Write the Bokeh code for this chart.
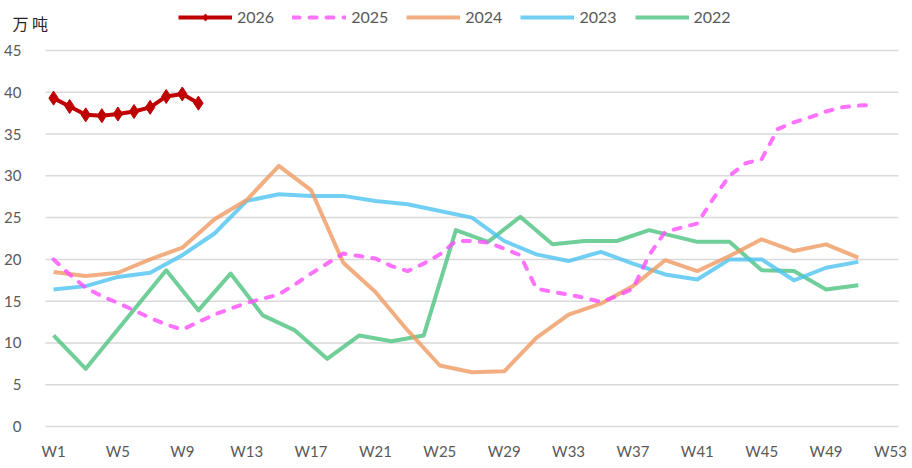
from bokeh.plotting import figure
from bokeh.models import Range1d, FixedTicker, Legend, LegendItem, Label
from bokeh.embed import file_html
from bokeh.resources import INLINE

# ---- data (万吨, by week) ----
weeks_2026 = [1, 2, 3, 4, 5, 6, 7, 8, 9, 10]
vals_2026 = [39.3, 38.3, 37.3, 37.2, 37.4, 37.7, 38.2, 39.5, 39.8, 38.7]

weeks_2025 = [1, 2, 3, 4, 5, 6, 7, 8, 9, 10, 11, 12, 13, 14, 15, 16, 17, 18, 19, 20,
              21, 22, 23, 24, 25, 26, 27, 28, 29, 30, 31, 32, 33, 34, 35, 36, 37, 38,
              39, 40, 41, 42, 43, 44, 45, 46, 47, 48, 49, 50, 51, 52]
vals_2025 = [20.0, 18.2, 16.6, 15.6, 14.8, 13.9, 13.0, 12.2, 11.6, 12.5, 13.4, 14.1,
             14.8, 15.3, 15.8, 17.0, 18.3, 19.5, 20.7, 20.4, 20.1, 19.2, 18.6, 19.5,
             20.6, 22.2, 22.2, 22.0, 21.3, 20.5, 16.5, 16.1, 15.8, 15.4, 14.9, 15.6,
             16.5, 20.5, 23.3, 23.8, 24.3, 27.3, 30.0, 31.5, 32.0, 35.6, 36.4, 37.0,
             37.7, 38.2, 38.4, 38.5]

weeks_2024 = [1, 3, 5, 7, 9, 11, 13, 15, 17, 19, 21, 23, 25, 27, 29, 31, 33, 35, 37,
              39, 41, 43, 45, 47, 49, 51]
vals_2024 = [18.5, 18.0, 18.4, 20.0, 21.4, 24.8, 27.1, 31.2, 28.3, 19.6, 16.1, 11.5,
             7.3, 6.5, 6.6, 10.6, 13.4, 14.7, 16.8, 19.9, 18.6, 20.4, 22.4, 21.0,
             21.8, 20.2]

weeks_2023 = [1, 3, 5, 7, 9, 11, 13, 15, 17, 19, 21, 23, 25, 27, 29, 31, 33, 35, 37,
              39, 41, 43, 45, 47, 49, 51]
vals_2023 = [16.4, 16.8, 17.9, 18.4, 20.5, 23.1, 27.0, 27.8, 27.6, 27.6, 27.0, 26.6,
             25.8, 25.0, 22.2, 20.6, 19.8, 20.9, 19.5, 18.2, 17.6, 20.0, 20.0, 17.5,
             19.0, 19.7]

weeks_2022 = [1, 3, 8, 10, 12, 14, 16, 18, 20, 22, 24, 26, 28, 30, 32, 34, 36, 38,
              41, 43, 45, 47, 49, 51]
vals_2022 = [10.9, 6.9, 18.7, 13.9, 18.3, 13.3, 11.5, 8.1, 10.9, 10.2, 10.9, 23.5,
             22.1, 25.1, 21.8, 22.2, 22.2, 23.5, 22.1, 22.1, 18.7, 18.6, 16.4, 16.9]

x_tick_weeks = [1, 5, 9, 13, 17, 21, 25, 29, 33, 37, 41, 45, 49, 53]
x_tick_labels = ["W1", "W5", "W9", "W13", "W17", "W21", "W25", "W29", "W33", "W37",
                 "W41", "W45", "W49", "W53"]
y_ticks = [0, 5, 10, 15, 20, 25, 30, 35, 40, 45]
y_axis_max = 45
n_weeks = 53

unit_text = "万 吨"

FONT = "Lato"
GRAY = "#595959"

# ---- geometry: the frame covers the whole figure; axes sit inside it ----
PLOT_W = 853          # pixels spanned by the 53 week slots
PLOT_H = 376          # pixels between 0 and 45
LEFT_PAD = 45         # room for the y tick labels
RIGHT_PAD = 12        # room for the last x tick label
TOP_PAD = 50          # room for legend / unit
BOTTOM_PAD = 40       # room for the x tick labels
x_lo, x_hi = 0.5, n_weeks + 0.5
px_per_week = PLOT_W / (x_hi - x_lo)
x_start = x_lo - LEFT_PAD / px_per_week
x_end = x_hi + RIGHT_PAD / px_per_week
units_per_px = y_axis_max / PLOT_H
y_start = -BOTTOM_PAD * units_per_px
y_end = y_axis_max + TOP_PAD * units_per_px
FRAME_W = LEFT_PAD + PLOT_W + RIGHT_PAD
FRAME_H = TOP_PAD + PLOT_H + BOTTOM_PAD

p = figure(frame_width=FRAME_W, frame_height=FRAME_H,
           output_backend="svg", toolbar_location=None,
           x_range=Range1d(x_start, x_end), y_range=Range1d(y_start, y_end),
           min_border_left=0, min_border_right=0, min_border_top=0,
           min_border_bottom=0)
p.outline_line_color = None
p.background_fill_color = "white"
p.border_fill_color = None

p.xgrid.visible = False
p.ygrid.visible = False
# horizontal gridlines over the week span only
p.segment(x0=[x_lo] * len(y_ticks), x1=[x_hi] * len(y_ticks), y0=y_ticks, y1=y_ticks,
          line_color="#D9D9D9", line_width=1.5)

p.xaxis.ticker = FixedTicker(ticks=x_tick_weeks)
p.xaxis.major_label_overrides = {w: lab for w, lab in zip(x_tick_weeks, x_tick_labels)}
p.xaxis.fixed_location = 0
p.yaxis.ticker = FixedTicker(ticks=y_ticks)
p.yaxis.fixed_location = x_lo

for ax in (p.xaxis, p.yaxis):
    ax.axis_line_color = None
    ax.major_tick_line_color = None
    ax.minor_tick_line_color = None
    ax.major_label_text_font = FONT
    ax.major_label_text_font_size = "15px"
    ax.major_label_text_color = GRAY
p.xaxis.major_label_standoff = 9
p.yaxis.major_label_standoff = 18

ALPHA = 0.8
r22 = p.line(weeks_2022, vals_2022, line_color="#4CC27F", line_width=4, line_alpha=ALPHA,
             line_join="round")
r23 = p.line(weeks_2023, vals_2023, line_color="#4EC3F0", line_width=4, line_alpha=ALPHA,
             line_join="round")
r24 = p.line(weeks_2024, vals_2024, line_color="#EF9A62", line_width=4, line_alpha=ALPHA,
             line_join="round")
r25 = p.line(weeks_2025, vals_2025, line_color="#FF4DFF", line_width=4, line_alpha=ALPHA,
             line_dash="7 10", line_cap="round", line_join="round")
r26l = p.line(weeks_2026, vals_2026, line_color="#C00000", line_width=4, line_join="round")
r26m = p.scatter(weeks_2026, vals_2026, marker="diamond", size=14, fill_color="#C00000",
                 line_color="#C00000")

legend = Legend(items=[
    LegendItem(label="2026", renderers=[r26l, r26m]),
    LegendItem(label="2025", renderers=[r25]),
    LegendItem(label="2024", renderers=[r24]),
    LegendItem(label="2023", renderers=[r23]),
    LegendItem(label="2022", renderers=[r22]),
], orientation="horizontal", location=(178, FRAME_H - 26), border_line_color=None,
    background_fill_alpha=0, padding=0, margin=0, spacing=18, glyph_width=54,
    glyph_height=18, label_height=18, label_standoff=5, label_text_font=FONT,
    label_text_font_size="16px", label_text_color=GRAY)
p.add_layout(legend)

p.add_layout(Label(x=12, y=FRAME_H - 22, x_units="screen", y_units="screen",
                   text=unit_text, text_font="Noto Sans CJK SC", text_font_size="16px",
                   text_baseline="middle", text_color="#262626"))

open("out.html", "w").write(file_html(p, INLINE))
